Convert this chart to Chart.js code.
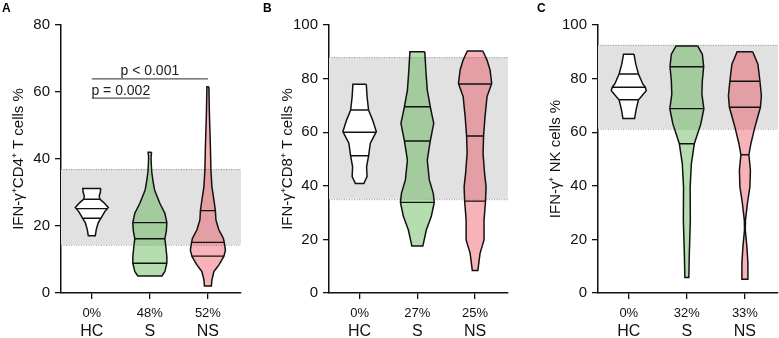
<!DOCTYPE html>
<html lang="en">
<head>
<meta charset="utf-8">
<script src="https://cdn.jsdelivr.net/npm/chart.js@4"></script>
<style>
    body { margin: 0; background: #fff; }
    canvas { position: absolute; top: 0; }
</style>
</head>
<body>
<canvas id="chartA" width="260" height="338" style="left:0px"></canvas>
<canvas id="chartB" width="260" height="338" style="left:260px"></canvas>
<canvas id="chartC" width="259" height="338" style="left:520px"></canvas>
<script>
const groups = ['HC', 'S', 'NS'];

// Panel A: IFN-g+ CD4+ T cells (violin outlines: value, half width in category units)
const pctA = ['0%', '48%', '52%'];
const bandA = [14.4, 37.0];
const hcA_y = [31.2, 30.0, 29.0, 28.0, 27.0, 25.5, 24.3, 22.5, 21.0, 19.0, 17.1];
const hcA_w = [0.155, 0.147, 0.129, 0.138, 0.207, 0.284, 0.224, 0.164, 0.112, 0.078, 0.060];
const sA_y = [42.0, 40.5, 38.0, 36.0, 33.7, 31.0, 29.8, 26.8, 23.8, 21.0, 18.5, 16.2, 13.8, 10.8, 8.9, 6.4, 5.1];
const sA_w = [0.029, 0.021, 0.026, 0.034, 0.052, 0.078, 0.103, 0.172, 0.259, 0.293, 0.284, 0.259, 0.276, 0.293, 0.293, 0.259, 0.207];
const nsA_y = [61.6, 53.6, 43.7, 36.7, 31.7, 27.8, 24.6, 21.8, 18.8, 16.3, 14.8, 12.8, 11.0, 8.4, 6.4, 3.9, 2.1];
const nsA_w = [0.017, 0.026, 0.043, 0.052, 0.069, 0.103, 0.129, 0.138, 0.19, 0.267, 0.284, 0.302, 0.276, 0.19, 0.103, 0.069, 0.06];
const quartA = [[22.3, 25.2, 28.0], [8.9, 16.2, 21.0], [11.0, 15.1, 24.6]];
const pLabels = ['p = 0.002', 'p < 0.001'];
const pFrom = [0, 0];
const pTo = [1, 2];
const pLevel = [58.2, 63.9];

// Panel B: IFN-g+ CD8+ T cells
const pctB = ['0%', '27%', '25%'];
const bandB = [35.0, 88.0];
const hcB_y = [77.9, 73.3, 68.3, 64.6, 60.2, 55.9, 51.1, 47.1, 43.4, 40.9];
const hcB_w = [0.116, 0.129, 0.155, 0.224, 0.29, 0.186, 0.155, 0.121, 0.129, 0.074];
const sB_y = [90.0, 83.2, 75.7, 69.5, 63.3, 56.8, 49.6, 42.2, 37.2, 33.8, 28.5, 23.5, 17.5];
const sB_w = [0.129, 0.147, 0.172, 0.224, 0.284, 0.224, 0.172, 0.207, 0.276, 0.293, 0.241, 0.155, 0.095];
const nsB_y = [90.3, 86.9, 83.2, 78.2, 73.3, 65.8, 58.6, 52.1, 44.7, 39.7, 34.3, 27.2, 19.8, 14.8, 8.4];
const nsB_w = [0.134, 0.207, 0.259, 0.288, 0.207, 0.172, 0.147, 0.138, 0.164, 0.19, 0.181, 0.155, 0.155, 0.086, 0.048];
const quartB = [[51.2, 60.0, 68.3], [33.8, 56.7, 69.5], [34.3, 58.6, 78.0]];

// Panel C: IFN-g+ NK cells
const pctC = ['0%', '32%', '33%'];
const bandC = [61.3, 92.6];
const hcC_y = [89.1, 85.4, 81.7, 78.0, 76.8, 75.5, 73.5, 72.1, 68.7, 65.1];
const hcC_w = [0.09, 0.121, 0.167, 0.241, 0.284, 0.302, 0.224, 0.167, 0.129, 0.1];
const sC_y = [92.2, 89.1, 84.5, 79.2, 74.2, 68.8, 63.1, 55.7, 48.2, 39.5, 27.1, 14.8, 5.8];
const sC_w = [0.186, 0.267, 0.29, 0.267, 0.259, 0.293, 0.241, 0.129, 0.078, 0.057, 0.06, 0.043, 0.034];
const nsC_y = [90.0, 85.4, 79.0, 73.6, 69.3, 61.9, 55.7, 51.6, 45.8, 39.6, 33.4, 27.2, 23.5, 17.3, 11.1, 5.1];
const nsC_w = [0.134, 0.224, 0.259, 0.284, 0.267, 0.172, 0.103, 0.069, 0.095, 0.086, 0.043, 0.01, 0.007, 0.034, 0.052, 0.052];
const quartC = [[72.1, 76.8, 81.7], [55.7, 68.8, 84.4], [51.6, 69.3, 79.0]];

const FONT = "'Liberation Sans', Arial, Helvetica, sans-serif";
const fills = ['#ffffff', 'rgba(79,174,67,0.42)', 'rgba(232,38,49,0.35)'];

// right side top->bottom, left side bottom->top, back to the start to close the top edge
function outline(center, ys, ws) {
    const right = ys.map((y, i) => ({ x: center + ws[i], y: y }));
    const left = ys.map((y, i) => ({ x: center - ws[i], y: y })).reverse();
    return right.concat(left, [right[0]]);
}

function widthAt(ys, ws, v) {
    for (let i = 0; i < ys.length - 1; i++) {
        if (v <= ys[i] && v >= ys[i + 1]) {
            const t = (ys[i] - v) / (ys[i] - ys[i + 1]);
            return ws[i] + t * (ws[i + 1] - ws[i]);
        }
    }
    return 0;
}

function makePanel(id, opts) {
    const datasets = [];
    opts.violins.forEach((v, i) => {
        datasets.push({
            data: outline(i, v[0], v[1]),
            fill: 'shape',
            order: 2,
            backgroundColor: fills[i],
            borderColor: '#111',
            borderWidth: 1.5
        });
        opts.quart[i].forEach(q => {
            const w = widthAt(v[0], v[1], q);
            datasets.push({
                data: [{ x: i - w, y: q }, { x: i + w, y: q }],
                fill: false, order: 1, borderColor: '#111', borderWidth: 1.4
            });
        });
    });
    (opts.brackets || []).forEach(b => {
        datasets.push({
            data: [{ x: b.from, y: b.level }, { x: b.to, y: b.level }],
            fill: false, order: 1, borderColor: '#555', borderWidth: 1.2
        });
    });

    const extras = {
        id: 'extras',
        beforeDatasetsDraw(chart) {
            const { ctx, chartArea, scales: { y } } = chart;
            const top = y.getPixelForValue(opts.band[1]);
            const bot = y.getPixelForValue(opts.band[0]);
            ctx.save();
            ctx.fillStyle = '#e1e1e1';
            ctx.fillRect(chartArea.left, top, chartArea.right - chartArea.left, bot - top);
            ctx.strokeStyle = '#9a9a9a';
            ctx.lineWidth = 1;
            ctx.setLineDash([1, 1.5]);
            ctx.beginPath();
            ctx.moveTo(chartArea.left, top + 0.5); ctx.lineTo(chartArea.right, top + 0.5);
            ctx.moveTo(chartArea.left, bot + 0.5); ctx.lineTo(chartArea.right, bot + 0.5);
            ctx.stroke();
            ctx.restore();
        },
        afterDraw(chart) {
            const { ctx, scales: { x, y } } = chart;
            ctx.save();
            ctx.fillStyle = '#222';
            ctx.font = '14px ' + FONT;
            ctx.textAlign = 'center';
            ctx.textBaseline = 'alphabetic';
            (opts.brackets || []).forEach(b => {
                const cx = (x.getPixelForValue(b.from) + x.getPixelForValue(b.to)) / 2;
                ctx.fillText(b.label, cx, y.getPixelForValue(b.level) - 3.5);
            });
            ctx.fillStyle = '#000';
            ctx.font = 'bold 12px ' + FONT;
            ctx.textAlign = 'left';
            ctx.textBaseline = 'top';
            ctx.fillText(opts.letter, opts.letterX, 3);
            ctx.restore();
        }
    };

    return new Chart(document.getElementById(id), {
        type: 'line',
        data: { datasets: datasets },
        options: {
            responsive: false,
            animation: false,
            events: [],
            elements: { point: { radius: 0 }, line: { tension: 0.0001 } },
            layout: { padding: { left: opts.padLeft, right: opts.padRight, top: 25, bottom: 0 } },
            plugins: { legend: { display: false }, tooltip: { enabled: false } },
            scales: {
                x: {
                    // suggested bounds keep every outline point drawn (no visible-range cut)
                    type: 'linear', suggestedMin: -0.53, suggestedMax: 2.57, bounds: 'data', weight: 0,
                    afterBuildTicks: s => { s.ticks = groups.map((g, i) => ({ value: i })); },
                    afterFit: s => { s.height = 28; },
                    ticks: {
                        callback: (v) => opts.pct[v], color: '#111',
                        font: { family: FONT, size: 13 }, padding: 7, maxRotation: 0
                    },
                    grid: { drawOnChartArea: false, color: '#111', tickLength: 6, lineWidth: 1.3 },
                    border: { color: '#111', width: 1.5 }
                },
                x2: {
                    type: 'linear', position: 'bottom', min: -0.53, max: 2.57, weight: 1,
                    afterBuildTicks: s => { s.ticks = groups.map((g, i) => ({ value: i })); },
                    afterFit: s => { s.height = 17; },
                    ticks: {
                        callback: (v) => groups[v], color: '#111',
                        font: { family: FONT, size: 16 }, padding: 1, maxRotation: 0
                    },
                    grid: { display: false, drawTicks: false },
                    border: { display: false }
                },
                y: {
                    min: 0, max: opts.yMax,
                    afterFit: s => { s.width = opts.yWidth; },
                    ticks: { stepSize: 20, color: '#111', font: { family: FONT, size: 15 }, padding: 5 },
                    grid: { drawOnChartArea: false, color: '#111', tickLength: 6, lineWidth: 1.3 },
                    border: { color: '#111', width: 1.5 },
                    title: {
                        display: true, text: opts.title, color: '#111',
                        font: { family: FONT, size: 15 }, padding: { top: 4, bottom: 0 }
                    }
                }
            }
        },
        plugins: [extras]
    });
}

makePanel('chartA', {
    letter: 'A', letterX: 2, yMax: 80, title: 'IFN-γ⁺CD4⁺ T cells %', pct: pctA, band: bandA,
    violins: [[hcA_y, hcA_w], [sA_y, sA_w], [nsA_y, nsA_w]], quart: quartA,
    brackets: pLabels.map((l, i) => ({ label: l, from: pFrom[i], to: pTo[i], level: pLevel[i] })),
    padLeft: 5.5, padRight: 19, yWidth: 55.5
});
makePanel('chartB', {
    letter: 'B', letterX: 3, yMax: 100, title: 'IFN-γ⁺CD8⁺ T cells %', pct: pctB, band: bandB,
    violins: [[hcB_y, hcB_w], [sB_y, sB_w], [nsB_y, nsB_w]], quart: quartB,
    padLeft: 15, padRight: 12, yWidth: 54
});
makePanel('chartC', {
    letter: 'C', letterX: 17, yMax: 100, title: 'IFN-γ⁺ NK cells %', pct: pctC, band: bandC,
    violins: [[hcC_y, hcC_w], [sC_y, sC_w], [nsC_y, nsC_w]], quart: quartC,
    padLeft: 23, padRight: 1, yWidth: 55
});
</script>
</body>
</html>
